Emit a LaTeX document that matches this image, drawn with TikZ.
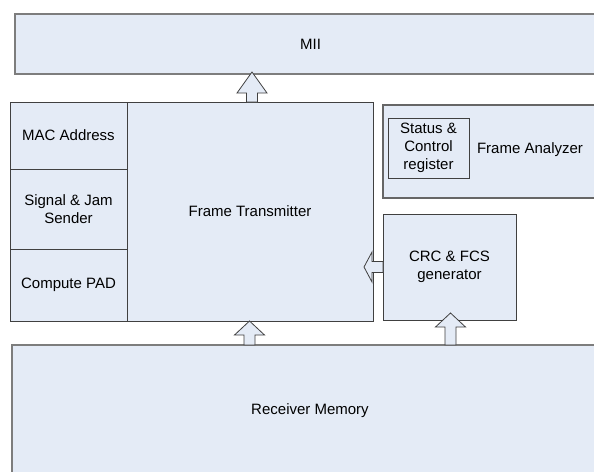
\documentclass[tikz,border=0pt]{standalone}
\usepackage{fontspec}
\setmainfont{Liberation Sans}
\usepackage{xcolor}
\usepackage{tikz}
\usetikzlibrary{calc}

\definecolor{boxfill}{RGB}{228,235,246}
\definecolor{boxline}{RGB}{64,64,64}
\definecolor{busline}{RGB}{125,125,125}

% block arrow pointing up: base, tip, head length
\newcommand{\blkup}[3]{\draw[arr] ($(#1)+(-5.5,0)$) -- ($(#2)+(-5.5,#3)$) -- ($(#2)+(-15,#3)$) -- (#2) -- ($(#2)+(15,#3)$) -- ($(#2)+(5.5,#3)$) -- ($(#1)+(5.5,0)$) -- cycle;}

\begin{document}
\begin{tikzpicture}[x=1pt,y=-1pt,
  blk/.style={draw=boxline,fill=boxfill,line width=1pt,rectangle,inner sep=0pt,outer sep=0pt,align=center,font=\fontsize{15}{18}\selectfont},
  bus/.style={blk,draw=busline,line width=2pt},
  arr/.style={draw=boxline,fill=boxfill,line width=0.8pt,line join=miter}]
\useasboundingbox (0,0) rectangle (594,471);
\clip (0,0) rectangle (594,471);
\fill[white] (0,0) rectangle (594,471);

% buses
\node[bus,minimum width=591,minimum height=60] (mii) at (310.5,44) {MII};
\node[bus,minimum width=596,minimum height=132] (rx) at (310,411) {Receiver Memory};

% transmitter side
\node[blk,minimum width=246,minimum height=219] (tx) at (250,211.5) {Frame Transmitter};
\node[blk,minimum width=117,minimum height=67] (mac) at (68.5,135.5) {MAC Address};
\node[blk,minimum width=117,minimum height=80] (sig) at (68.5,209) {Signal \& Jam\\Sender};
\node[blk,minimum width=117,minimum height=72] (pad) at (68.5,285) {Compute PAD};

% analyzer side
\node[blk,draw=gray!80!black,line width=1.3pt,minimum width=222,minimum height=93] (fa) at (494,151.5) {};
\node[blk,minimum width=81,minimum height=60] (st) at (428.5,148) {Status \&\\Control\\register};
\node[font=\fontsize{15}{18}\selectfont] (falbl) at (530,150) {Frame Analyzer};
\node[blk,minimum width=133,minimum height=106] (crc) at (449.5,267) {CRC \& FCS\\generator};

% arrows
\coordinate (a1b) at (tx.north -| 252,0);
\coordinate (a1t) at ($(mii.south -| 252,0)+(0,-2)$);
\blkup{a1b}{a1t}{21}
\coordinate (a2b) at (rx.north -| 249.5,0);
\coordinate (a2t) at (tx.south -| 249.5,0);
\blkup{a2b}{a2t}{14}
\coordinate (a3b) at (rx.north -| 450.5,0);
\coordinate (a3t) at ($(crc.south -| 450.5,0)+(0,-7)$);
\blkup{a3b}{a3t}{14}
\coordinate (a4t) at ($(tx.east |- crc.west)+(-9,0)$);
\draw[arr] ($(crc.west)+(0,-5.5)$) -- ($(a4t)+(8,-5.5)$) -- ($(a4t)+(8,-15)$) -- (a4t) -- ($(a4t)+(8,15)$) -- ($(a4t)+(8,5.5)$) -- ($(crc.west)+(0,5.5)$) -- cycle;
\end{tikzpicture}
\end{document}
